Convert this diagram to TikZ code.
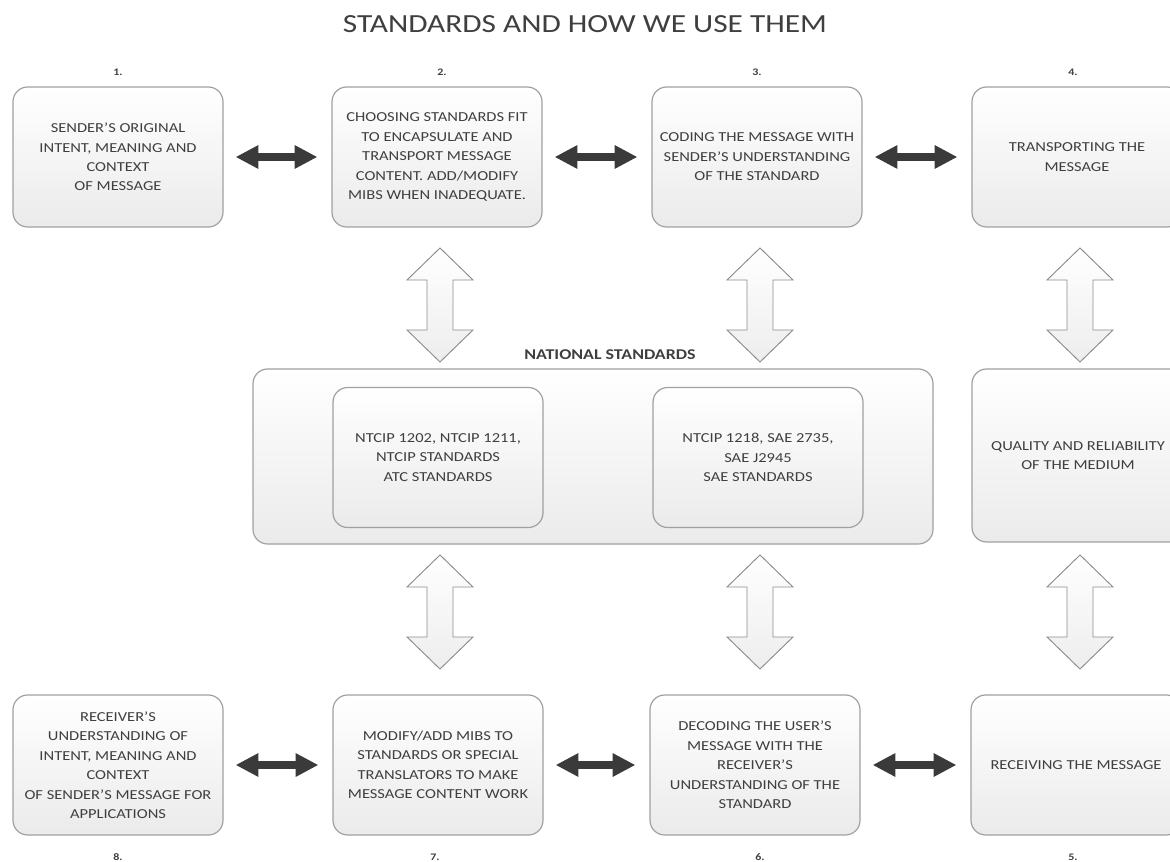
\documentclass[tikz,border=0pt]{standalone}
\usepackage{fontspec}
\setmainfont{Carlito}[FakeStretch=1.2]
\usetikzlibrary{arrows.meta,shadings}
\definecolor{txt}{HTML}{3F3F3F}
\definecolor{edge}{HTML}{A0A0A0}
\definecolor{dark}{HTML}{3A3A3A}
\tikzset{
  card/.style={draw=edge, line width=0.9pt, rounded corners=11pt,
    top color=white, bottom color=black!8, text=txt, align=center,
    font=\fontsize{10.3}{14.6}\selectfont,
    minimum width=157.5pt, minimum height=105pt, inner sep=2pt},
  frame/.style={card, minimum width=510pt, minimum height=131.25pt},
  num/.style={font=\bfseries\fontsize{7.5}{8}\selectfont, text=txt},
  link/.style={draw=dark, line width=5.6pt,
    {Triangle[length=17pt,width=16.5pt]}-{Triangle[length=17pt,width=16.5pt]},
    shorten <=9pt, shorten >=10.5pt},
  pics/vblock/.style={code={
    \draw[draw=black!45, line width=0.7pt, top color=white, bottom color=black!7]
      (0,-57) -- (33,-25) -- (13,-25) -- (13,25) -- (33,25) -- (0,57)
      -- (-33,25) -- (-13,25) -- (-13,-25) -- (-33,-25) -- cycle;
  }}
}
\begin{document}
\begin{tikzpicture}[x=0.75pt,y=-0.75pt]
\useasboundingbox (0,0) rectangle (1170,862);

% title
\node[text=txt, font=\fontsize{19.6}{22}\selectfont] (title) at (585,24) {STANDARDS AND HOW WE USE THEM};

% upper row of steps
\node[card] (s1) at (118,157) {SENDER'S ORIGINAL\\INTENT, MEANING AND\\CONTEXT\\OF MESSAGE};
\node[card] (s2) at (437,157) {CHOOSING STANDARDS FIT\\TO ENCAPSULATE AND\\TRANSPORT MESSAGE\\CONTENT. ADD/MODIFY\\MIBS WHEN INADEQUATE.};
\node[card] (s3) at (757,157) {CODING THE MESSAGE WITH\\SENDER'S UNDERSTANDING\\OF THE STANDARD};
\node[card] (s4) at (1077,157) {TRANSPORTING THE\\MESSAGE};

\node[num] (n1) at (118,72) {1.};
\node[num] (n2) at (442,72) {2.};
\node[num] (n3) at (757,72) {3.};
\node[num] (n4) at (1073,72) {4.};

% national standards block
\node[frame] (nat) at (593,456.5) {};
\node[font=\bfseries\fontsize{11.2}{13}\selectfont, text=txt] (natlbl) at (610,355) {NATIONAL STANDARDS};
\node[card] (ntcip) at (438,457.5) {NTCIP 1202, NTCIP 1211,\\NTCIP STANDARDS\\ATC STANDARDS};
\node[card] (sae) at (758,457.5) {NTCIP 1218, SAE 2735,\\SAE J2945\\SAE STANDARDS};
\node[card, minimum width=159pt, minimum height=129.75pt] (medium) at (1078,455.5) {QUALITY AND RELIABILITY\\OF THE MEDIUM};

% lower row of steps
\node[card] (s8) at (118,765) {RECEIVER'S\\UNDERSTANDING OF\\INTENT, MEANING AND\\CONTEXT\\OF SENDER'S MESSAGE FOR\\APPLICATIONS};
\node[card] (s7) at (438,765) {MODIFY/ADD MIBS TO\\STANDARDS OR SPECIAL\\TRANSLATORS TO MAKE\\MESSAGE CONTENT WORK};
\node[card] (s6) at (755,765) {DECODING THE USER'S\\MESSAGE WITH THE\\RECEIVER'S\\UNDERSTANDING OF THE\\STANDARD};
\node[card] (s5) at (1076,765) {RECEIVING THE MESSAGE};

\node[num] (n8) at (118,857) {8.};
\node[num] (n7) at (435,857) {7.};
\node[num] (n6) at (760,857) {6.};
\node[num] (n5) at (1073,857) {5.};

% horizontal two-way links
\draw[link] (s1) -- (s2);
\draw[link] (s2) -- (s3);
\draw[link] (s3) -- (s4);
\draw[link] (s8) -- (s7);
\draw[link] (s7) -- (s6);
\draw[link] (s6) -- (s5);

% vertical block arrows
\pic at (440,305) {vblock};
\pic at (760,305) {vblock};
\pic at (1080,305) {vblock};
\pic at (440,612) {vblock};
\pic at (760,612) {vblock};
\pic at (1080,612) {vblock};
\end{tikzpicture}
\end{document}
